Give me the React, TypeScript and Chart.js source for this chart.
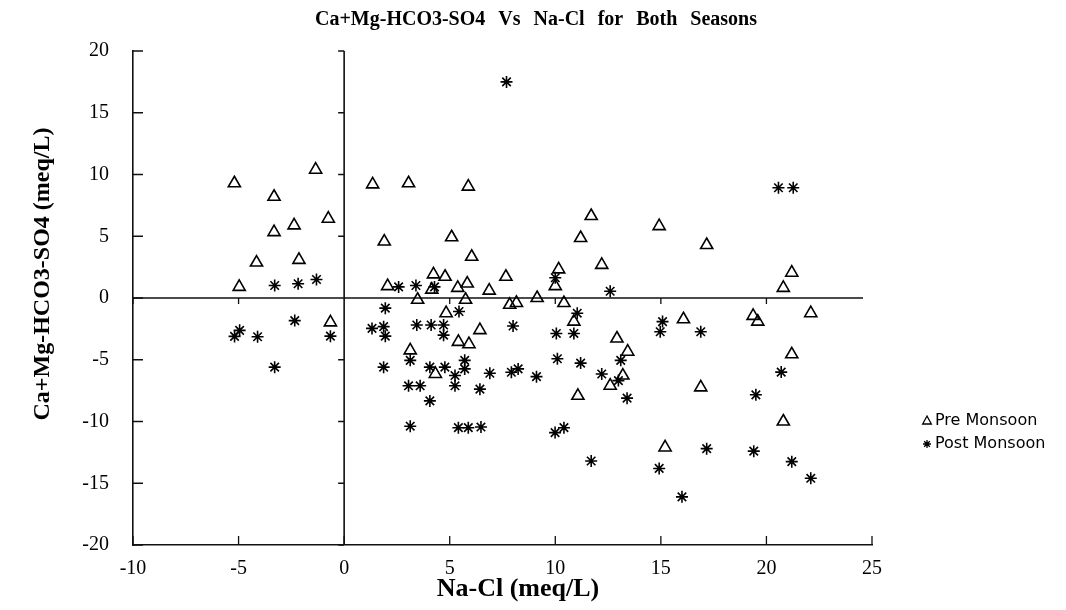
import React, { useEffect, useRef } from "react";
import { Chart, registerables } from "chart.js";

Chart.register(...registerables);

const chartTitle = "Ca+Mg-HCO3-SO4 Vs Na-Cl for Both Seasons";
const xAxisTitle = "Na-Cl (meq/L)";
const yAxisTitle = "Ca+Mg-HCO3-SO4 (meq/L)";
const seriesNames = ["Pre Monsoon", "Post Monsoon"];

const xTicks = [-10, -5, 0, 5, 10, 15, 20, 25];
const yTicks = [-20, -15, -10, -5, 0, 5, 10, 15, 20];

const preX = [
  -5.2, -1.35, -3.32, -0.75, -2.37, -3.32, -2.14, -4.15, -4.97, -0.65,
  1.35, 3.05, 5.88, 1.9, 5.09, 6.04, 7.66, 4.23, 4.78, 2.06, 5.38, 5.83, 3.48, 4.15, 6.87, 5.75, 7.84, 8.16, 9.14, 10.0, 4.83,
  6.43, 5.41, 5.91, 3.13, 4.32,
  11.7, 11.2, 14.92, 17.17, 12.2, 10.16, 21.2, 20.8, 10.41, 10.88, 16.07, 19.37, 19.59, 22.1, 12.92, 13.43,
  13.2, 12.6, 11.07, 16.89, 21.2, 20.8, 15.2,
];
const preY = [
  9.29, 10.39, 8.2, 6.42, 5.88, 5.33, 3.09, 2.87, 0.9, -1.97,
  9.2, 9.29, 9.02, 4.57, 4.92, 3.34, 1.72, 1.91, 1.72, 0.96, 0.82, 1.17, -0.14, 0.68, 0.6, -0.14, -0.55, -0.4, 0.0, 0.96, -1.23,
  -2.6, -3.55, -3.74, -4.24, -6.15,
  6.64, 4.86, 5.82, 4.29, 2.68, 2.32, 2.05, 0.82, -0.41, -1.91, -1.72, -1.45, -1.91, -1.23, -3.28, -4.35,
  -6.28, -7.1, -7.92, -7.24, -4.56, -10.0, -12.1,
];

const postX = [
  -3.29, -2.18, -1.31, -2.34, -5.19, -4.95, -4.1, -0.65, -3.29,
  2.58, 3.4, 4.28, 1.95, 5.44, 10.0,
  1.32, 1.87, 1.95, 3.44, 4.12, 4.71, 4.71, 8.0, 10.05,
  3.13, 1.87, 4.06, 4.77, 5.71, 5.71, 5.25, 5.25, 6.9, 6.43, 7.92, 8.24, 9.11, 3.05, 3.6, 4.06, 3.13, 5.41, 5.88, 6.48, 9.99,
  12.6, 11.04, 10.88, 15.08, 14.97, 16.89,
  10.1, 11.2, 12.2, 13.1, 12.99, 13.4, 10.41, 11.7, 14.92, 16.0, 17.17, 19.4, 21.2, 22.1, 20.7, 19.5,
  20.57, 21.27, 7.69,
];
const postY = [
  1.01, 1.15, 1.5, -1.83, -3.11, -2.62, -3.14, -3.09, -5.6,
  0.9, 1.01, 0.9, -0.82, -1.09, 1.64,
  -2.46, -2.32, -3.09, -2.19, -2.19, -2.19, -3.01, -2.27, -2.87,
  -5.05, -5.6, -5.6, -5.6, -5.05, -5.74, -6.28, -7.11, -6.09, -7.38, -6.01, -5.74, -6.37, -7.11, -7.11, -8.33, -10.38, -10.5, -10.5, -10.45, -10.9,
  0.55, -1.23, -2.87, -1.91, -2.73, -2.73,
  -4.92, -5.27, -6.15, -5.05, -6.69, -8.11, -10.5, -13.2, -13.8, -16.1, -12.2, -12.4, -13.25, -14.6, -6.0, -7.84,
  8.93, 8.93, 17.5,
];

const SERIF = '"Liberation Serif", "Times New Roman", serif';
const SANS = '"DejaVu Sans", "Liberation Sans", sans-serif';

function drawTriangle(ctx: CanvasRenderingContext2D, cx: number, cy: number, s: number) {
  ctx.beginPath();
  ctx.moveTo(cx, cy - s);
  ctx.lineTo(cx + s * 0.87, cy + s * 0.6);
  ctx.lineTo(cx - s * 0.87, cy + s * 0.6);
  ctx.closePath();
  ctx.stroke();
}

function drawStar(ctx: CanvasRenderingContext2D, cx: number, cy: number, r: number) {
  ctx.beginPath();
  for (let i = 0; i < 4; i++) {
    const a = (i * Math.PI) / 4;
    ctx.moveTo(cx + Math.cos(a) * r, cy + Math.sin(a) * r);
    ctx.lineTo(cx - Math.cos(a) * r, cy - Math.sin(a) * r);
  }
  ctx.stroke();
}

const decorPlugin = {
  id: "decor",
  beforeDatasetsDraw(chart: any) {
    const { ctx, chartArea: a, scales } = chart;
    const x = scales.x;
    const y = scales.y;
    const x0 = x.getPixelForValue(0);
    const y0 = y.getPixelForValue(0);
    ctx.save();
    ctx.strokeStyle = "#111";
    ctx.lineWidth = 1.6;
    ctx.beginPath();
    ctx.moveTo(a.left, y0);
    ctx.lineTo(a.right - 9, y0);
    ctx.moveTo(x0, a.top);
    ctx.lineTo(x0, a.bottom);
    ctx.stroke();
    ctx.lineWidth = 1.3;
    ctx.beginPath();
    xTicks.forEach((v) => {
      const px = x.getPixelForValue(v);
      ctx.moveTo(px, a.bottom);
      ctx.lineTo(px, a.bottom - 9);
      if (v !== 0 && v < 25) {
        ctx.moveTo(px, y0);
        ctx.lineTo(px, y0 + 6);
      }
    });
    yTicks.forEach((v) => {
      const py = y.getPixelForValue(v);
      ctx.moveTo(a.left, py);
      ctx.lineTo(a.left + 10, py);
      if (v !== 0) {
        ctx.moveTo(x0, py);
        ctx.lineTo(x0 - 6, py);
      }
    });
    ctx.stroke();
    ctx.restore();
  },
  afterDraw(chart: any) {
    const { ctx } = chart;
    ctx.save();
    ctx.fillStyle = "#000";
    ctx.textAlign = "center";
    ctx.textBaseline = "middle";
    // chart title
    ctx.font = `bold 20px ${SERIF}`;
    try { (ctx as any).wordSpacing = "8px"; } catch (e) {}
    ctx.fillText(chartTitle, 536, 20);
    try { (ctx as any).wordSpacing = "0px"; } catch (e) {}
    // x title
    ctx.font = `bold 26px ${SERIF}`;
    ctx.fillText(xAxisTitle, 518, 589);
    // y title
    ctx.save();
    ctx.translate(43, 274);
    ctx.rotate(-Math.PI / 2);
    ctx.font = `bold 24px ${SERIF}`;
    ctx.fillText(yAxisTitle, 0, 0);
    ctx.restore();
    // legend
    ctx.strokeStyle = "#000";
    ctx.lineWidth = 1.3;
    drawTriangle(ctx, 927, 421, 5);
    drawStar(ctx, 927, 444, 4);
    ctx.textAlign = "left";
    ctx.font = `16px ${SANS}`;
    ctx.fillText(seriesNames[0], 935, 421);
    ctx.fillText(seriesNames[1], 935, 444);
    ctx.restore();
  },
};

export default function App() {
  const canvasRef = useRef<HTMLCanvasElement | null>(null);

  useEffect(() => {
    const canvas = canvasRef.current;
    if (!canvas) return;
    const preData = preX.map((v, i) => ({ x: v, y: preY[i] }));
    const postData = postX.map((v, i) => ({ x: v, y: postY[i] }));
    const chart = new Chart(canvas, {
      type: "scatter",
      data: {
        datasets: [
          {
            label: seriesNames[0],
            data: preData,
            pointStyle: "triangle",
            radius: 7,
            borderColor: "#000",
            backgroundColor: "rgba(255,255,255,0)",
            borderWidth: 1.6,
          },
          {
            label: seriesNames[1],
            data: postData,
            pointStyle: "star",
            radius: 6,
            borderColor: "#000",
            backgroundColor: "#000",
            borderWidth: 1.6,
          },
        ],
      },
      plugins: [decorPlugin],
      options: {
        responsive: false,
        animation: false,
        devicePixelRatio: 1,
        layout: { padding: { top: 51, right: 194, left: 0, bottom: 0 } },
        plugins: {
          legend: { display: false },
          title: { display: false },
          tooltip: { enabled: false },
        },
        scales: {
          x: {
            type: "linear",
            min: -10,
            max: 25,
            afterBuildTicks: (scale: any) => {
              scale.ticks = xTicks.map((v) => ({ value: v }));
            },
            afterFit: (scale: any) => {
              scale.height = 65;
            },
            grid: { display: false },
            border: { display: true, color: "#111", width: 1.6 },
            ticks: {
              color: "#000",
              font: { family: SERIF, size: 20 },
              padding: 4,
              maxRotation: 0,
              autoSkip: false,
            },
          },
          y: {
            type: "linear",
            min: -20,
            max: 20,
            afterBuildTicks: (scale: any) => {
              scale.ticks = yTicks.map((v) => ({ value: v }));
            },
            afterFit: (scale: any) => {
              scale.width = 133;
            },
            grid: { display: false },
            border: { display: true, color: "#111", width: 1.6 },
            ticks: {
              color: "#000",
              font: { family: SERIF, size: 20 },
              padding: 16,
              autoSkip: false,
            },
          },
        },
      },
    });
    return () => chart.destroy();
  }, []);

  return (
    <div style={{ position: "fixed", left: 0, top: 0, width: 1066, height: 610, background: "#fff" }}>
      <canvas ref={canvasRef} width={1066} height={610} style={{ display: "block" }} />
    </div>
  );
}
